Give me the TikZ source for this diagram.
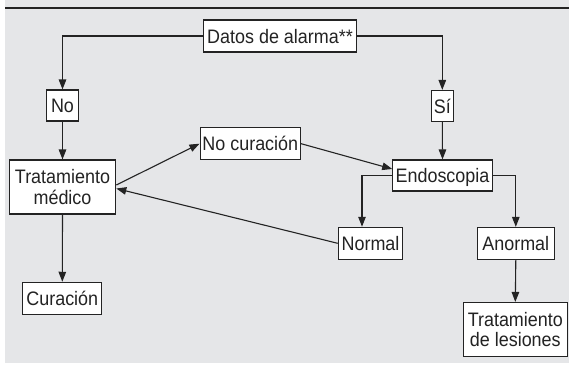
\documentclass[tikz,border=0pt]{standalone}
\usepackage{fontspec}
\setmainfont[FakeStretch=0.92]{Liberation Sans}
\usetikzlibrary{arrows.meta}
\definecolor{bggray}{RGB}{229,230,232}
\definecolor{ink}{RGB}{35,35,35}
\tikzset{
  boxnode/.style={draw=ink, line width=1.1pt, fill=white, inner sep=0pt,
    font=\fontsize{19.5}{20.7}\selectfont, text=ink},
  oneline/.style={boxnode, text height=14pt, text depth=0pt, minimum height=32pt},
  twoline/.style={boxnode, align=center, minimum height=54pt},
  arr/.style={draw=ink, line width=1.1pt, -{Triangle[length=10pt,width=7.5pt]}},
  plain/.style={draw=ink, line width=1.1pt}
}
\begin{document}
\begin{tikzpicture}[x=1pt,y=-1pt]
\useasboundingbox (0,0) rectangle (569,364);
\fill[bggray] (5,0) rectangle (569,363);
\draw[ink, line width=2.2pt] (5,8) -- (569,8);

\node[oneline, minimum width=153pt] (datos) at (280,36) {Datos de alarma**};
\node[oneline, minimum width=31.5pt, minimum height=31pt] (no) at (62.5,105.5) {No};
\node[oneline, minimum width=22.5pt, minimum height=31pt] (si) at (442.3,106) {Sí};
\node[twoline, minimum width=106.5pt] (trat) at (62.5,187) {Tratamiento\\médico};
\node[oneline, minimum width=100.5pt] (nocur) at (250.3,143.7) {No curación};
\node[oneline, minimum width=99.5pt, minimum height=31pt] (endo) at (442.5,175.5) {Endoscopia};
\node[oneline, minimum width=64.5pt] (normal) at (370.5,243.3) {Normal};
\node[oneline, minimum width=77pt] (anorm) at (515.8,243.4) {Anormal};
\node[oneline, minimum width=79pt] (cur) at (62.3,298.3) {Curación};
\node[twoline, minimum width=104.5pt] (lesion) at (515.3,329.5) {Tratamiento\\de lesiones};

\coordinate (normtop) at ([xshift=-8.5pt]normal.north);
\coordinate (tratout) at ([yshift=2pt]trat.east);
\coordinate (tratin) at ([yshift=-1.5pt]trat.east);
\coordinate (endoin) at ([yshift=6.5pt]endo.west);

\draw[arr] (datos.west) -| (no.north);
\draw[arr] (datos.east) -| (si.north);
\draw[arr] (no.south) -- (trat.north);
\draw[arr] (si.south) -- (endo.north);
\draw[arr] (trat.south) -- (cur.north);
\draw[arr] (tratout) -- (nocur.west);
\draw[arr] (normal.west) -- (tratin);
\draw[arr] (nocur.east) -- (endoin);
\draw[arr] (endo.west) -| (normtop);
\draw[arr] (endo.east) -| (anorm.north);
\draw[arr] (anorm.south) -- (lesion.north);
\end{tikzpicture}
\end{document}
